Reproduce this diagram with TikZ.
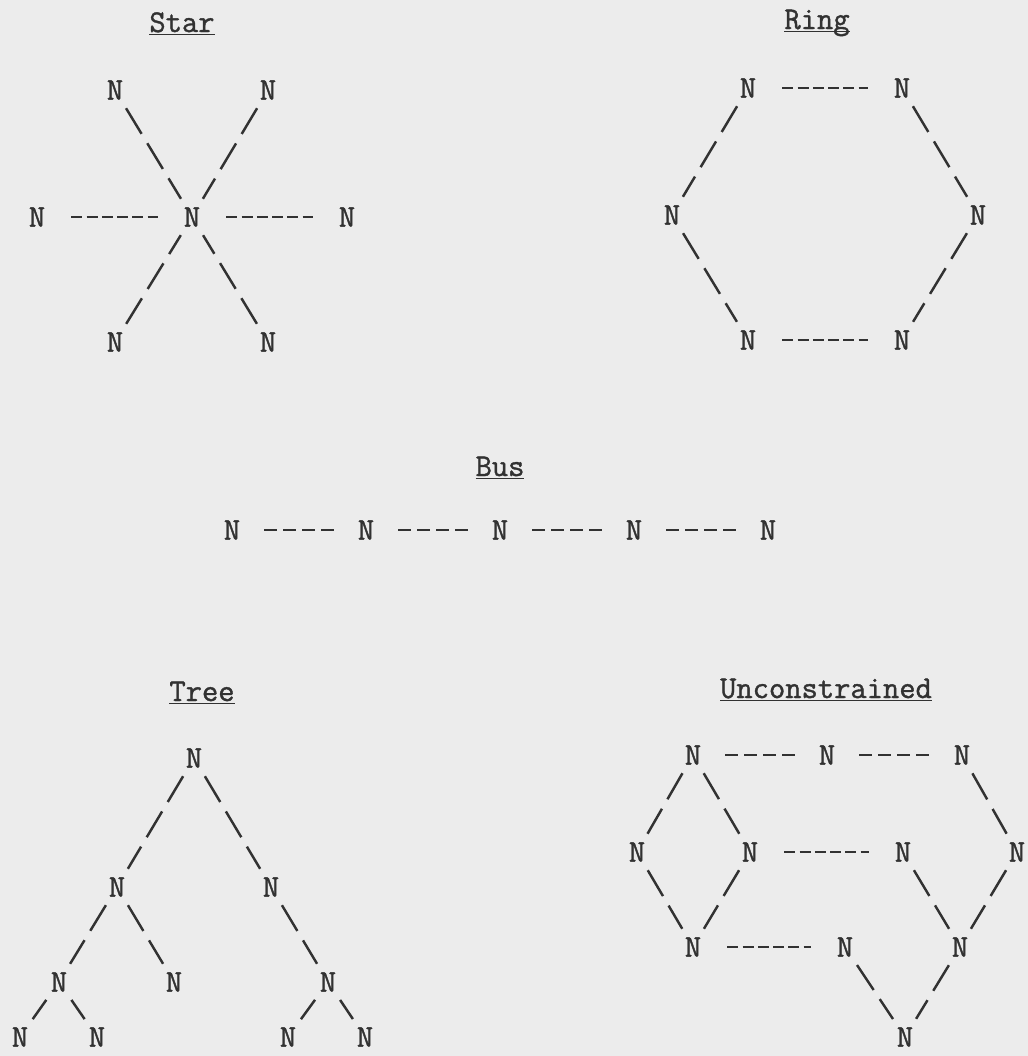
\documentclass[tikz,border=0pt]{standalone}
\usepackage{fontspec}
\usetikzlibrary{positioning}
\newfontfamily\typefont{Latin Modern Mono}[FakeBold=1.2]
\definecolor{PaperGray}{RGB}{236,236,236}
\definecolor{InkGray}{RGB}{50,50,50}
\tikzset{
  nnode/.style={rectangle, inner sep=0pt, minimum width=4mm, minimum height=4.4mm,
    text=InkGray, font=\fontsize{18}{20}\selectfont\typefont},
  ttl/.style={inner sep=0pt, anchor=base, text=InkGray,
    font=\fontsize{18}{20}\selectfont\typefont},
  hlink/.style={draw=InkGray, line width=1.5pt, dash pattern=on 2.2mm off 0.85mm,
    shorten <=4.8mm, shorten >=4.8mm},
  hlinkshort/.style={draw=InkGray, line width=1.5pt, dash pattern=on 2.6mm off 1.2mm,
    shorten <=4.4mm, shorten >=4.4mm},
  slink/.style={draw=InkGray, line width=1.4pt, dash pattern=on 6mm off 2.2mm,
    shorten <=1.6mm, shorten >=1.6mm},
}
\newcommand{\ttlabel}[1]{\underline{\smash{#1}}}

\begin{document}
\begin{tikzpicture}[x=0.2mm, y=-0.2mm]
  \fill[PaperGray] (0,0) rectangle (1028,1056);
  \useasboundingbox (0,0) rectangle (1028,1056);

  % titles
  \node[ttl] (tstar) at (182,32) {\ttlabel{Star}};
  \node[ttl] (tring) at (817,29) {\ttlabel{Ring}};
  \node[ttl] (tbus) at (500,476) {\ttlabel{Bus}};
  \node[ttl] (ttree) at (202,701) {\ttlabel{Tree}};
  \node[ttl] (tfree) at (826,698) {\ttlabel{Unconstrained}};

  % star
  \node[nnode] (s0) at (192,217) {N};
  \node[nnode] (s1) at (115,90) {N};
  \node[nnode] (s2) at (268,90) {N};
  \node[nnode] (s3) at (37,217) {N};
  \node[nnode] (s4) at (347,217) {N};
  \node[nnode] (s5) at (115,342) {N};
  \node[nnode] (s6) at (268,342) {N};
  \draw[hlink] (s3) -- (s0);
  \draw[hlink] (s0) -- (s4);
  \foreach \k in {1,2,5,6} \draw[slink] (s\k) -- (s0);

  % ring
  \node[nnode] (r1) at (748,88) {N};
  \node[nnode] (r2) at (902,88) {N};
  \node[nnode] (r3) at (672,215) {N};
  \node[nnode] (r4) at (978,215) {N};
  \node[nnode] (r5) at (748,340) {N};
  \node[nnode] (r6) at (902,340) {N};
  \draw[hlink] (r1) -- (r2);
  \draw[hlink] (r5) -- (r6);
  \draw[slink] (r1) -- (r3);
  \draw[slink] (r3) -- (r5);
  \draw[slink] (r2) -- (r4);
  \draw[slink] (r4) -- (r6);

  % bus
  \foreach \k in {1,...,5}
    \node[nnode] (b\k) at ({232+134*(\k-1)},530) {N};
  \foreach \k [evaluate=\k as \j using int(\k+1)] in {1,...,4}
    \draw[hlinkshort] (b\k) -- (b\j);

  % tree
  \node[nnode] (t0) at (194,758) {N};
  \node[nnode] (t1) at (117,887) {N};
  \node[nnode] (t2) at (271,887) {N};
  \node[nnode] (t3) at (59,982) {N};
  \node[nnode] (t4) at (174,982) {N};
  \node[nnode] (t5) at (328,982) {N};
  \node[nnode] (t6) at (20,1037) {N};
  \node[nnode] (t7) at (97,1037) {N};
  \node[nnode] (t8) at (288,1037) {N};
  \node[nnode] (t9) at (365,1037) {N};
  \draw[slink] (t0) -- (t1);
  \draw[slink] (t0) -- (t2);
  \draw[slink] (t1) -- (t3);
  \draw[slink] (t1) -- (t4);
  \draw[slink] (t2) -- (t5);
  \draw[slink] (t3) -- (t6);
  \draw[slink] (t3) -- (t7);
  \draw[slink] (t5) -- (t8);
  \draw[slink] (t5) -- (t9);

  % unconstrained
  \node[nnode] (u1) at (693,755) {N};
  \node[nnode] (u2) at (827,755) {N};
  \node[nnode] (u3) at (962,755) {N};
  \node[nnode] (u4) at (637,852) {N};
  \node[nnode] (u5) at (750,852) {N};
  \node[nnode] (u6) at (903,852) {N};
  \node[nnode] (u7) at (1017,852) {N};
  \node[nnode] (u8) at (693,947) {N};
  \node[nnode] (u9) at (845,947) {N};
  \node[nnode] (u10) at (960,947) {N};
  \node[nnode] (u11) at (905,1037) {N};
  \draw[hlinkshort] (u1) -- (u2);
  \draw[hlinkshort] (u2) -- (u3);
  \draw[hlink] (u5) -- (u6);
  \draw[hlink] (u8) -- (u9);
  \draw[slink] (u1) -- (u4);
  \draw[slink] (u1) -- (u5);
  \draw[slink] (u4) -- (u8);
  \draw[slink] (u5) -- (u8);
  \draw[slink] (u3) -- (u7);
  \draw[slink] (u7) -- (u10);
  \draw[slink] (u6) -- (u10);
  \draw[slink] (u9) -- (u11);
  \draw[slink] (u10) -- (u11);
\end{tikzpicture}
\end{document}
